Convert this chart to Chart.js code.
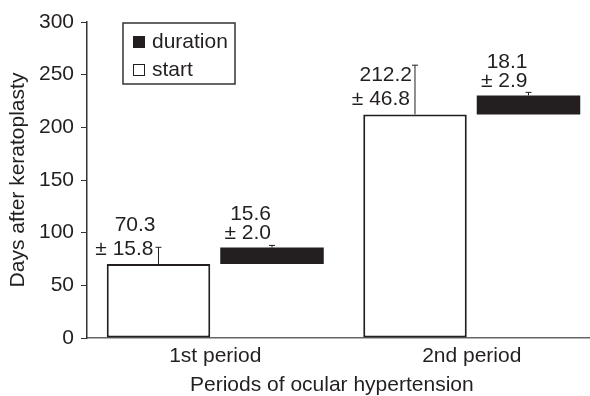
<!DOCTYPE html>
<html>
<head>
<meta charset="utf-8">
<script src="https://cdn.jsdelivr.net/npm/chart.js@4.4.1/dist/chart.umd.min.js"></script>
<style>
  html, body { margin: 0; padding: 0; background: #fff; overflow: hidden; }
  #wrap { width: 600px; height: 396px; }
</style>
</head>
<body>
<div id="wrap"><canvas id="chart" width="600" height="396"></canvas></div>
<script>
const categories = ["1st period", "2nd period"];
const startMean = [70.3, 212.2];
const startSd = [15.8, 46.8];
const durationMean = [15.6, 18.1];
const durationSd = [2.0, 2.9];
const yTicks = [0, 50, 100, 150, 200, 250, 300];

const FONT = "'Liberation Sans', Arial, Helvetica, sans-serif";
const SIZE = 21;
const INK = "#231f20";

// floating bars: duration sits on top of the start bar
const durationRange = startMean.map((s, i) => [s, s + durationMean[i]]);

// error bars + the mean/sd text above each bar
const errorLabels = {
  id: "errorLabels",
  afterDatasetsDraw(chart) {
    const ctx = chart.ctx;
    const y = chart.scales.y;
    ctx.save();
    ctx.strokeStyle = INK;
    ctx.fillStyle = INK;
    ctx.lineWidth = 1;
    ctx.font = SIZE + "px " + FONT;
    ctx.textBaseline = "middle";

    chart.getDatasetMeta(0).data.forEach((bar, i) => {
      const top = y.getPixelForValue(startMean[i]);
      const errY = y.getPixelForValue(startMean[i] + startSd[i]);
      ctx.beginPath();
      ctx.moveTo(bar.x, top);
      ctx.lineTo(bar.x, errY);
      ctx.moveTo(bar.x - 3, errY);
      ctx.lineTo(bar.x + 3, errY);
      ctx.stroke();
      ctx.textAlign = "right";
      ctx.fillText(startMean[i].toFixed(1), bar.x - 3, top - 39);
      ctx.fillText("± " + startSd[i].toFixed(1), bar.x - 5, top - 15);
    });

    chart.getDatasetMeta(1).data.forEach((bar, i) => {
      const end = startMean[i] + durationMean[i];
      const top = y.getPixelForValue(end);
      const errY = y.getPixelForValue(end + durationSd[i]);
      ctx.beginPath();
      ctx.moveTo(bar.x, top);
      ctx.lineTo(bar.x, errY);
      ctx.moveTo(bar.x - 3, errY);
      ctx.lineTo(bar.x + 3, errY);
      ctx.stroke();
      ctx.textAlign = "right";
      ctx.fillText(durationMean[i].toFixed(1), bar.x - 1, top - 33);
      ctx.fillText("± " + durationSd[i].toFixed(1), bar.x - 1, top - 14);
    });
    ctx.restore();
  }
};

// boxed legend inside the plot, duration listed first
const boxLegend = {
  id: "boxLegend",
  afterDraw(chart) {
    const ctx = chart.ctx;
    const a = chart.chartArea;
    const x0 = a.left + 36, y0 = a.top + 1, w = 112, h = 61;
    ctx.save();
    ctx.strokeStyle = "#333";
    ctx.lineWidth = 1.5;
    ctx.strokeRect(x0, y0, w, h);
    ctx.font = SIZE + "px " + FONT;
    ctx.textBaseline = "middle";
    ctx.textAlign = "left";
    const items = chart.data.datasets.slice().reverse();
    items.forEach((ds, k) => {
      const cy = y0 + 19 + k * 28;
      if (ds.backgroundColor === "#ffffff") {
        ctx.fillStyle = "#fff";
        ctx.fillRect(x0 + 10.5, cy - 5.5, 11, 11);
        ctx.lineWidth = 1;
        ctx.strokeStyle = INK;
        ctx.strokeRect(x0 + 10.5, cy - 5.5, 11, 11);
      } else {
        ctx.fillStyle = ds.backgroundColor;
        ctx.fillRect(x0 + 10, cy - 6, 12, 12);
      }
      ctx.fillStyle = INK;
      ctx.fillText(ds.label, x0 + 29, cy);
    });
    ctx.restore();
  }
};

new Chart(document.getElementById("chart"), {
  type: "bar",
  data: {
    labels: categories,
    datasets: [
      {
        label: "start",
        data: startMean,
        backgroundColor: "#ffffff",
        borderColor: INK,
        borderWidth: 2,
        borderSkipped: false
      },
      {
        label: "duration",
        data: durationRange,
        backgroundColor: INK,
        borderWidth: 0
      }
    ]
  },
  options: {
    responsive: false,
    animation: false,
    devicePixelRatio: 1,
    categoryPercentage: 0.885,
    barPercentage: 0.912,
    layout: { padding: { top: 22, right: 0, left: 0, bottom: 0 } },
    plugins: {
      legend: { display: false },
      tooltip: { enabled: false }
    },
    scales: {
      x: {
        grid: { display: false, drawTicks: false },
        border: { display: true, color: "#666", width: 1.5 },
        ticks: { color: INK, font: { family: FONT, size: SIZE }, padding: 6 },
        title: {
          display: true,
          // trailing spaces nudge the centred title a little left, as in the original
          text: "Periods of ocular hypertension    ",
          color: INK,
          font: { family: FONT, size: SIZE, lineHeight: 1 },
          padding: { top: 0, bottom: 0 }
        },
        afterFit(scale) { scale.height = 58; }
      },
      y: {
        min: 0,
        max: 300,
        afterBuildTicks(scale) { scale.ticks = yTicks.map(v => ({ value: v })); },
        grid: { drawOnChartArea: false, drawTicks: true, tickLength: 6, color: "#333" },
        border: { display: true, color: "#333", width: 1.5 },
        ticks: { color: INK, font: { family: FONT, size: SIZE }, padding: 7 },
        title: {
          display: true,
          text: "Days after keratoplasty",
          color: INK,
          font: { family: FONT, size: SIZE, lineHeight: 1.2 },
          padding: { top: 6, bottom: 0 }
        },
        afterFit(scale) { scale.width = 87; }
      }
    }
  },
  plugins: [errorLabels, boxLegend]
});
</script>
</body>
</html>
